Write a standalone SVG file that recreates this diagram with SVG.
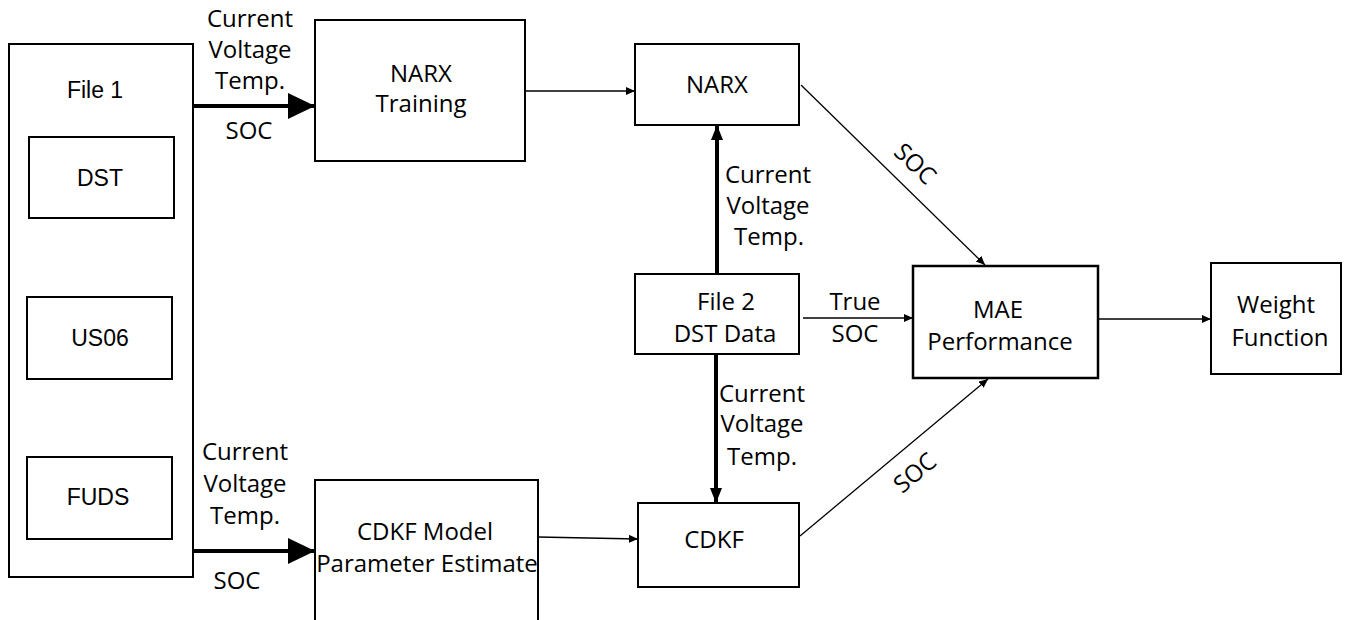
<svg xmlns="http://www.w3.org/2000/svg" width="1347" height="620" viewBox="0 0 1347 620">
  <style>
    .box { fill: #ffffff; stroke: #000000; stroke-width: 2; }
    .lbl { font-family: "Open Sans", "Noto Sans", sans-serif; font-size: 24px; fill: #000000; text-anchor: middle; }
    .lbl1 { font-family: "Liberation Sans", Arial, sans-serif; font-size: 23px; fill: #000000; text-anchor: middle; }
    .thin { stroke: #000000; stroke-width: 1.3; fill: none; marker-end: url(#arrSmall); }
    .thick { stroke: #000000; stroke-width: 4; fill: none; }
  </style>
  <defs>
    <marker id="arrSmall" markerUnits="userSpaceOnUse" markerWidth="10" markerHeight="10" refX="9" refY="4" orient="auto">
      <path d="M0,0 L9,4 L0,8 z" fill="#000000"/>
    </marker>
    <marker id="arrMid" markerUnits="userSpaceOnUse" markerWidth="16" markerHeight="14" refX="15" refY="6" orient="auto">
      <path d="M0,0 L15,6 L0,12 z" fill="#000000"/>
    </marker>
    <marker id="arrBig" markerUnits="userSpaceOnUse" markerWidth="28" markerHeight="28" refX="27" refY="13" orient="auto">
      <path d="M0,0 L27,13 L0,26 z" fill="#000000"/>
    </marker>
  </defs>
  <rect width="1347" height="620" fill="#ffffff"/>

  <!-- connectors -->
  <g id="connectors">
    <line class="thick" x1="193" y1="106" x2="315" y2="106" marker-end="url(#arrBig)"/>
    <line class="thick" x1="193" y1="551" x2="315" y2="551" marker-end="url(#arrBig)"/>
    <line class="thin" x1="525" y1="91" x2="635" y2="91"/>
    <line class="thin" x1="538" y1="537" x2="638" y2="539"/>
    <line class="thick" x1="717" y1="274" x2="717" y2="125" marker-end="url(#arrMid)"/>
    <line class="thick" x1="716" y1="355" x2="716" y2="503" marker-end="url(#arrMid)"/>
    <line class="thin" x1="801" y1="85" x2="985" y2="265"/>
    <line class="thin" x1="800" y1="536" x2="988" y2="379"/>
    <line class="thin" x1="803" y1="318" x2="913" y2="318"/>
    <line class="thin" x1="1098" y1="319" x2="1211" y2="319"/>

    <text class="lbl" x="250" y="27">Current</text>
    <text class="lbl" x="250" y="58">Voltage</text>
    <text class="lbl" x="250" y="89">Temp.</text>
    <text class="lbl" x="249" y="139">SOC</text>

    <text class="lbl" x="245" y="460">Current</text>
    <text class="lbl" x="245" y="492">Voltage</text>
    <text class="lbl" x="245" y="524">Temp.</text>
    <text class="lbl" x="237" y="589">SOC</text>

    <text class="lbl" x="768" y="183">Current</text>
    <text class="lbl" x="768" y="214">Voltage</text>
    <text class="lbl" x="769" y="245">Temp.</text>

    <text class="lbl" x="762" y="402">Current</text>
    <text class="lbl" x="762" y="432">Voltage</text>
    <text class="lbl" x="762" y="465">Temp.</text>

    <text class="lbl" x="855" y="310">True</text>
    <text class="lbl" x="855" y="342">SOC</text>

    <text class="lbl" transform="translate(915,164) rotate(44)" x="0" y="8">SOC</text>
    <text class="lbl" transform="translate(915,473) rotate(-40)" x="0" y="8">SOC</text>
  </g>

  <!-- data sources -->
  <g id="file1">
    <rect class="box" x="9" y="44" width="184" height="533"/>
    <text class="lbl1" x="95" y="98">File 1</text>
  </g>
  <g id="dst">
    <rect class="box" x="29" y="137" width="145" height="81"/>
    <text class="lbl1" x="100" y="186">DST</text>
  </g>
  <g id="us06">
    <rect class="box" x="27" y="297" width="145" height="82"/>
    <text class="lbl1" x="100" y="346">US06</text>
  </g>
  <g id="fuds">
    <rect class="box" x="27" y="457" width="145" height="82"/>
    <text class="lbl1" x="98" y="505">FUDS</text>
  </g>

  <!-- processing stages -->
  <g id="narx-training">
    <rect class="box" x="315" y="20" width="210" height="141"/>
    <text class="lbl" x="421" y="82">NARX</text>
    <text class="lbl" x="421" y="112">Training</text>
  </g>
  <g id="cdkf-model">
    <rect class="box" x="315" y="480" width="223" height="150"/>
    <text class="lbl" x="425" y="540">CDKF Model</text>
    <text class="lbl" x="427" y="572">Parameter Estimate</text>
  </g>
  <g id="narx">
    <rect class="box" x="635" y="44" width="164" height="81"/>
    <text class="lbl" x="717" y="93">NARX</text>
  </g>
  <g id="file2">
    <rect class="box" x="635" y="274" width="164" height="80"/>
    <text class="lbl" x="726" y="310">File 2</text>
    <text class="lbl" x="725" y="342">DST Data</text>
  </g>
  <g id="cdkf">
    <rect class="box" x="638" y="503" width="161" height="84"/>
    <text class="lbl" x="714" y="548">CDKF</text>
  </g>
  <g id="mae">
    <rect class="box" x="913" y="266" width="185" height="112" style="stroke-width:2.5"/>
    <text class="lbl" x="998" y="318">MAE</text>
    <text class="lbl" x="1000" y="350">Performance</text>
  </g>
  <g id="weight">
    <rect class="box" x="1211" y="263" width="130" height="111"/>
    <text class="lbl" x="1276" y="313">Weight</text>
    <text class="lbl" x="1280" y="346">Function</text>
  </g>
</svg>
